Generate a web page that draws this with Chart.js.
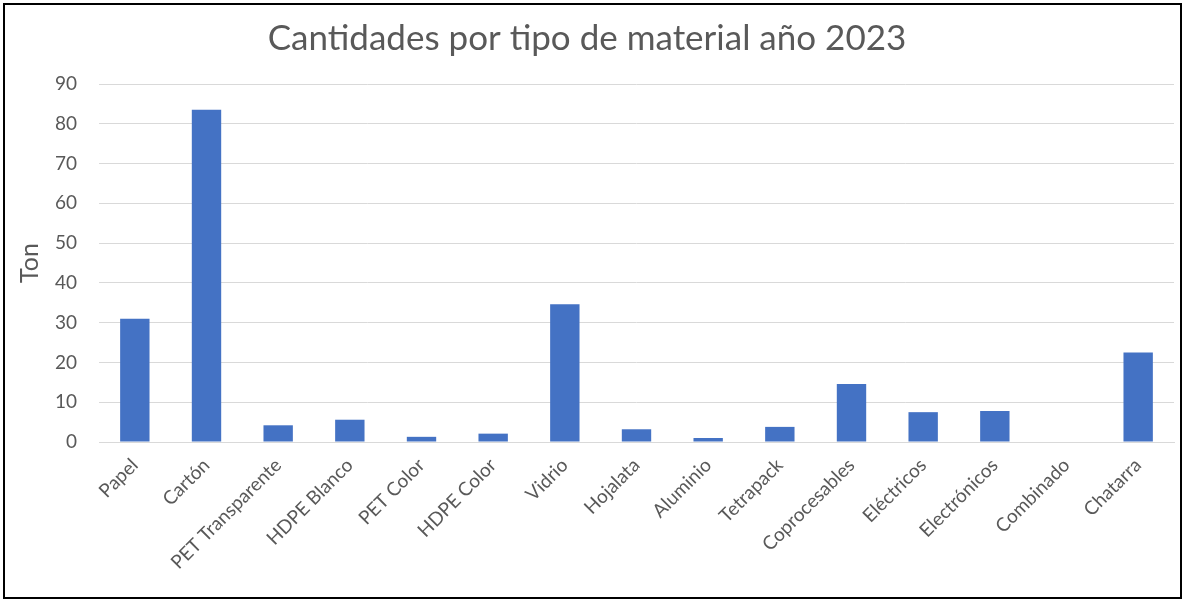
<!DOCTYPE html>
<html>
<head>
<meta charset="utf-8">
<script src="https://cdn.jsdelivr.net/npm/chart.js@4"></script>
<style>
  html, body { margin: 0; padding: 0; background: #fff; }
  #wrap { position: relative; width: 1185px; height: 602px; }
  #frame { position: absolute; left: 3px; top: 3px; width: 1179px; height: 596px; box-sizing: border-box; border: 2px solid #000; pointer-events: none; }
</style>
</head>
<body>
<div id="wrap">
  <canvas id="c" width="1185" height="602"></canvas>
  <div id="frame"></div>
</div>
<script>
const categories = ["Papel", "Cartón", "PET Transparente", "HDPE Blanco", "PET Color", "HDPE Color", "Vidrio", "Hojalata", "Aluminio", "Tetrapack", "Coprocesables", "Eléctricos", "Electrónicos", "Combinado", "Chatarra"];
const tons = [31.0, 83.5, 4.2, 5.6, 1.3, 2.1, 34.6, 3.2, 1.0, 3.8, 14.6, 7.5, 7.8, 0, 22.5];
const yTicks = [0, 10, 20, 30, 40, 50, 60, 70, 80, 90];
const titleText = "Cantidades por tipo de material año 2023";
const yTitle = "Ton";

const FONT = "Lato, 'Open Sans', sans-serif";
const TXT = "#595959";

new Chart(document.getElementById('c'), {
  type: 'bar',
  data: {
    labels: categories,
    datasets: [{
      data: tons,
      backgroundColor: '#4472C4',
      borderWidth: 0,
      categoryPercentage: 1.0,
      barPercentage: 0.41
    }]
  },
  options: {
    responsive: false,
    animation: false,
    layout: { padding: { left: 0, right: 11, top: 0, bottom: 0 } },
    plugins: {
      legend: { display: false },
      tooltip: { enabled: false },
      title: {
        display: true,
        text: titleText,
        color: TXT,
        font: { family: FONT, size: 35, weight: 'normal' },
        padding: { top: 18, bottom: 24 }
      }
    },
    scales: {
      x: {
        grid: { display: false, drawTicks: false },
        border: { display: true, color: '#d9d9d9', width: 1 },
        ticks: {
          color: TXT,
          font: { family: FONT, size: 19 },
          minRotation: 45,
          maxRotation: 45,
          padding: 12,
          autoSkip: false
        },
        afterFit: (s) => { s.height = 160; }
      },
      y: {
        min: 0,
        max: 90,
        afterBuildTicks: (s) => { s.ticks = yTicks.map(v => ({ value: v })); },
        grid: { color: '#d9d9d9', lineWidth: 1, drawTicks: false },
        border: { display: false },
        ticks: {
          color: TXT,
          font: { family: FONT, size: 19 },
          padding: 22
        },
        title: {
          display: true,
          text: yTitle,
          color: TXT,
          font: { family: FONT, size: 25 },
          padding: { top: 15, bottom: 0 }
        },
        afterFit: (s) => { s.width = 99; }
      }
    }
  }
});
</script>
</body>
</html>
